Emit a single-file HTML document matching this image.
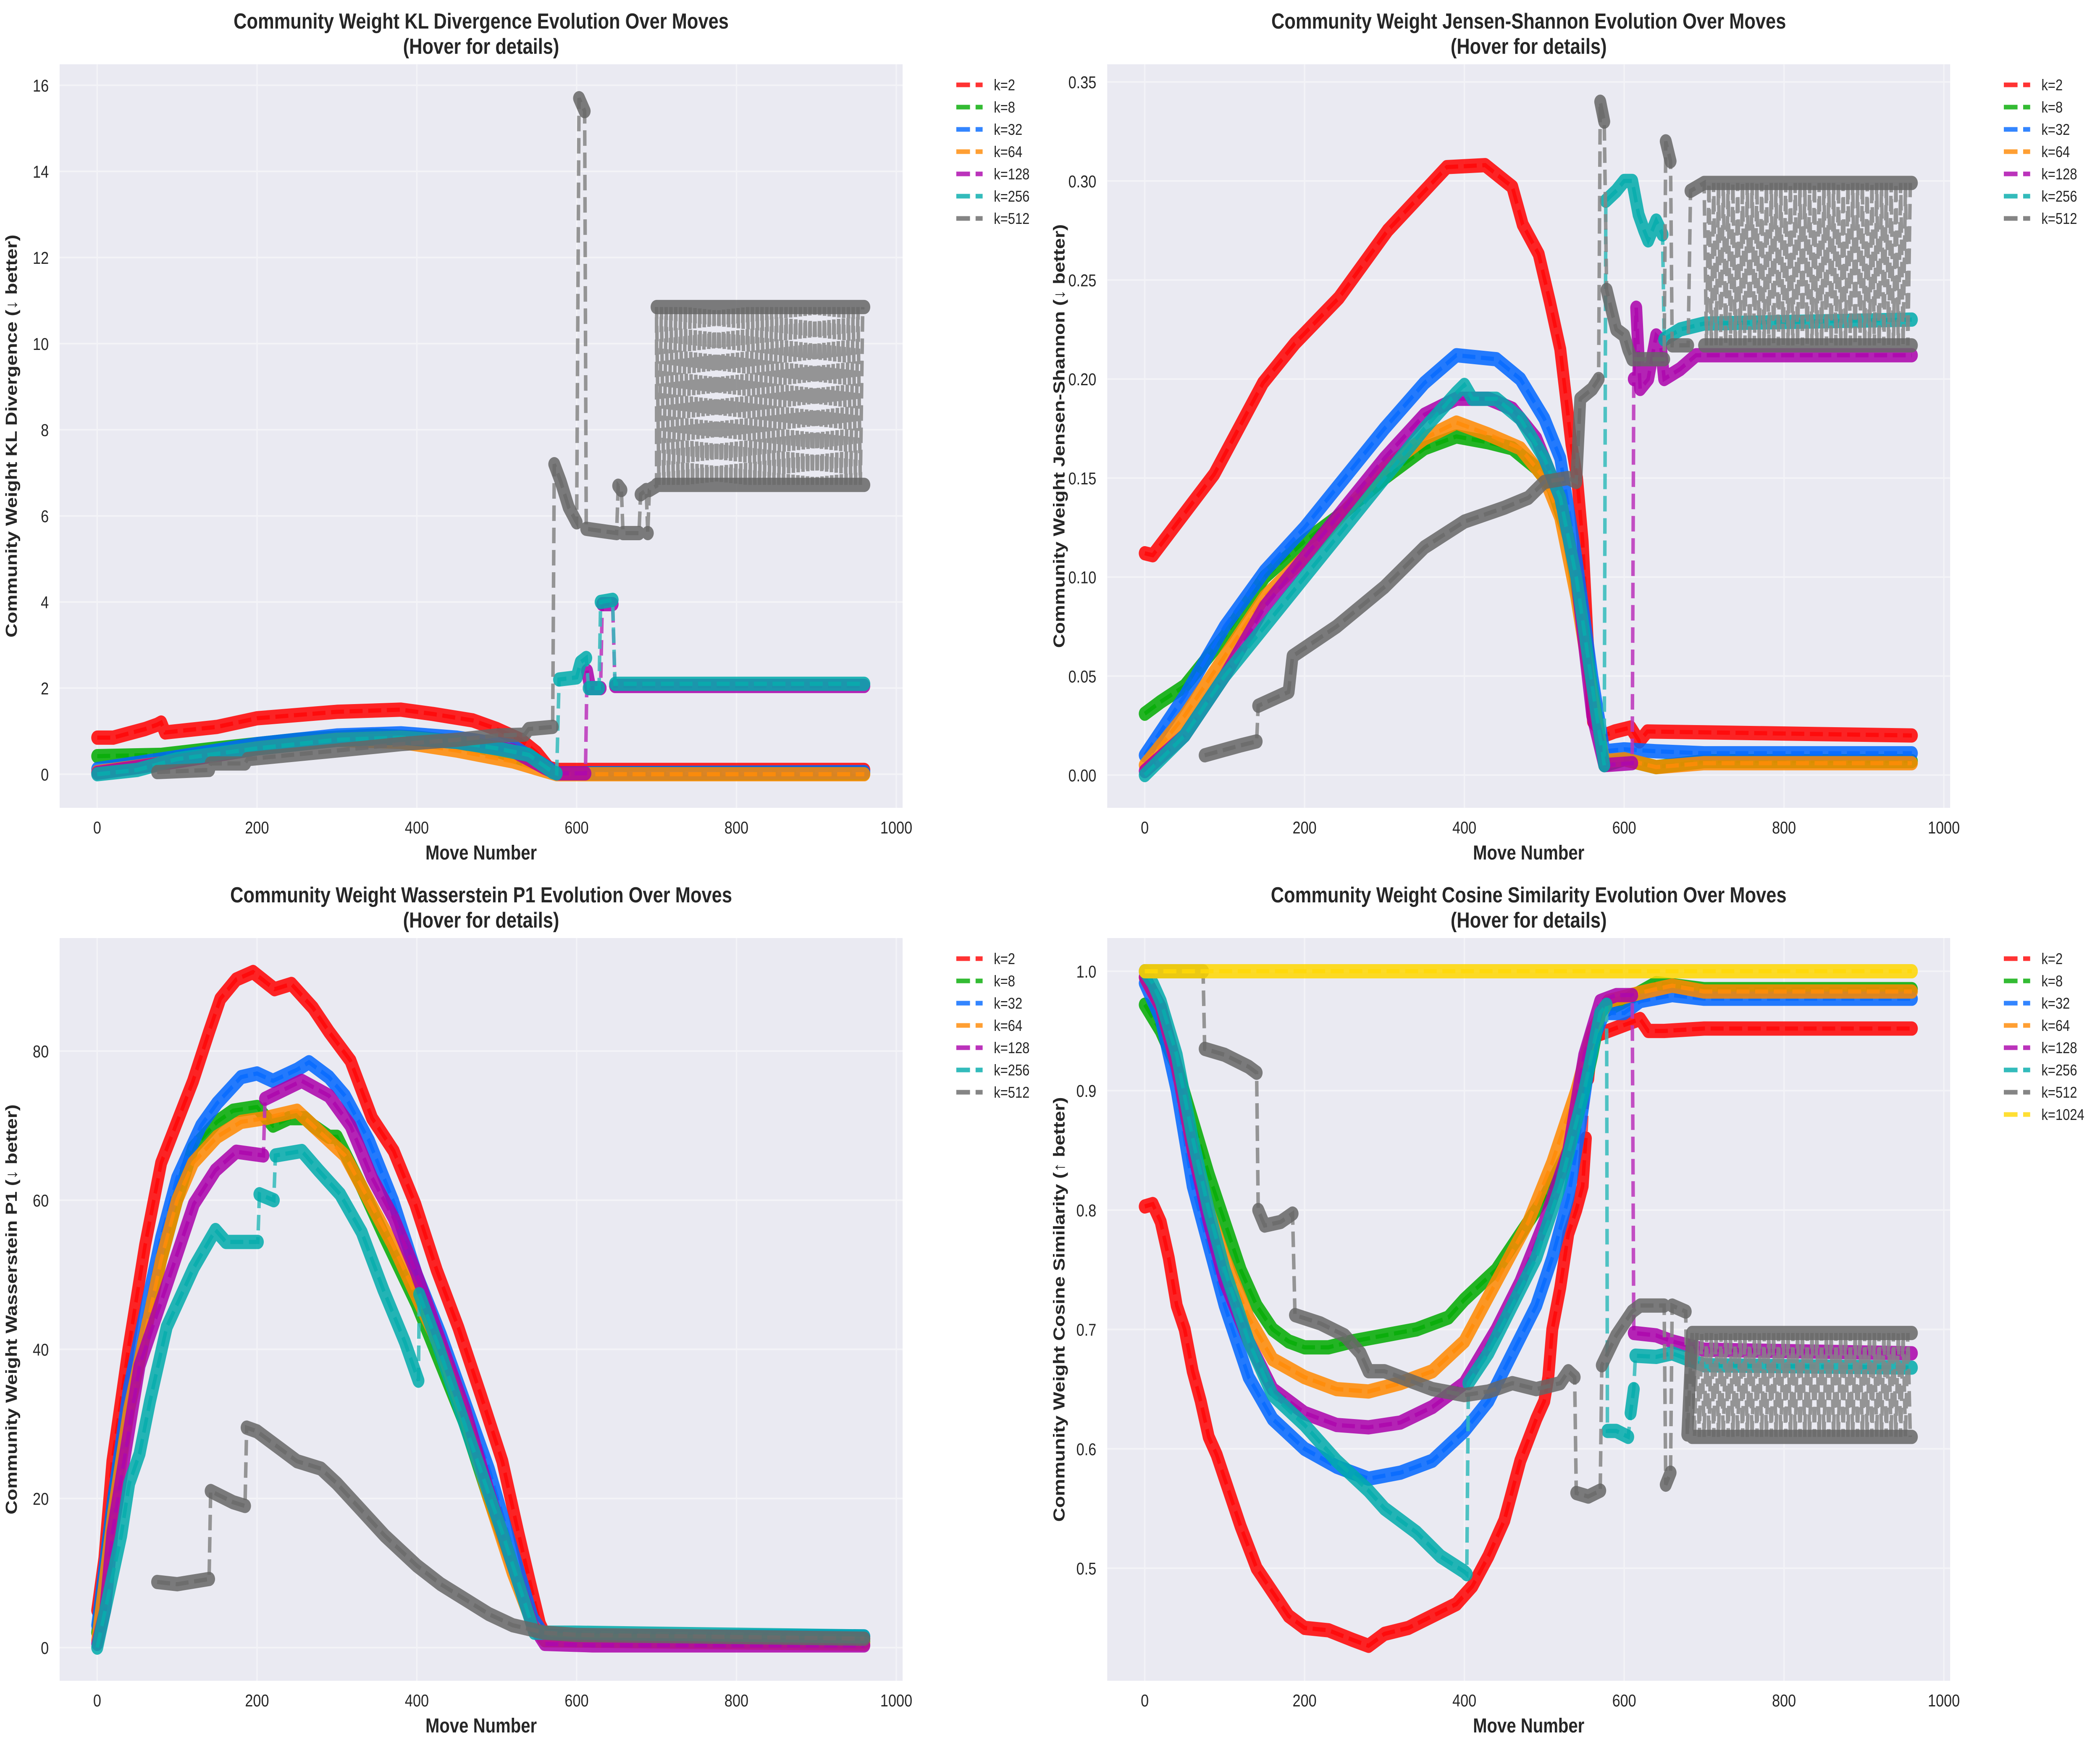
<!DOCTYPE html>
<html><head><meta charset="utf-8"><style>
html,body{margin:0;padding:0;background:#fff;width:100%;height:100%;overflow:hidden;}
svg{display:block;position:absolute;left:0;top:0;width:100vw;height:100vh;font-family:"Liberation Sans",Arial,sans-serif;}
</style></head><body>
<svg id="fig" viewBox="0 0 5984 4161" preserveAspectRatio="none" xmlns="http://www.w3.org/2000/svg"></svg>
<script>
// ---------- data ----------
const xTicks = [0,200,400,600,800,1000];
const klTicks = [0,2,4,6,8,10,12,14,16];
const jsTicks = [0,0.05,0.10,0.15,0.20,0.25,0.30,0.35];
const wsTicks = [0,20,40,60,80];
const cosTicks = [0.5,0.6,0.7,0.8,0.9,1.0];
const seriesLabels = ["k=2","k=8","k=32","k=64","k=128","k=256","k=512","k=1024"];

// KL divergence
const kl_k2 = [[0,0.85],[20,0.85],[40,0.95],[60,1.05],[75,1.15],[80,1.2],[85,0.97],[150,1.1],[200,1.3],[300,1.45],[380,1.5],[420,1.4],[470,1.25],[500,1.05],[530,0.8],[550,0.5],[565,0.15],[575,0.1],[960,0.1]];
const kl_k8 = [[0,0.42],[80,0.45],[150,0.6],[250,0.8],[350,0.9],[400,0.85],[450,0.75],[500,0.55],[550,0.25],[575,0.02],[960,0.02]];
const kl_k32 = [[0,0.12],[100,0.4],[200,0.7],[300,0.9],[380,0.95],[450,0.85],[520,0.65],[560,0.2],[575,0.02],[960,0.05]];
const kl_k64 = [[0,0.05],[100,0.3],[200,0.6],[300,0.8],[380,0.75],[450,0.55],[520,0.3],[560,0.08],[575,0.0],[960,0.0]];
const kl_k128 = [[0,0.03],[100,0.3],[200,0.6],[300,0.8],[380,0.85],[450,0.75],[520,0.55],[560,0.15],[575,0.02],[611,0.02],[613,2.4],[617,2.0],[630,2.0],[632,3.95],[645,3.95],[648,2.05],[960,2.05]];
const kl_k256 = [[0,0.0],[50,0.1],[100,0.35],[200,0.6],[300,0.8],[380,0.85],[450,0.75],[500,0.6],[540,0.45],[570,0.05],[575,0.02],[578,2.2],[600,2.25],[605,2.6],[612,2.7],[615,2.0],[628,2.0],[630,4.0],[645,4.05],[648,2.1],[960,2.1]];
const kl_k512 = [[75,0.05],[140,0.1],[142,0.25],[185,0.25],[188,0.35],[300,0.55],[380,0.7],[450,0.8],[500,0.9],[535,0.92],[540,1.05],[570,1.1],[572,7.2],[580,6.8],[590,6.2],[600,5.85],[603,15.7],[610,15.4],[612,5.7],[650,5.6],[652,6.7],[656,6.6],[658,5.6],[678,5.6],[680,6.5],[687,6.6],[689,5.6],[691,6.6],[700,6.7]];
const kl_k512_osc = [700,960,6.72,10.85];

// Jensen-Shannon
const js_k2 = [[0,0.112],[10,0.111],[87,0.152],[148,0.198],[188,0.218],[243,0.241],[304,0.275],[378,0.307],[426,0.308],[460,0.297],[473,0.278],[493,0.263],[507,0.239],[520,0.215],[527,0.191],[534,0.167],[541,0.15],[548,0.118],[554,0.07],[561,0.027],[575,0.02],[588,0.022],[608,0.024],[619,0.017],[629,0.022],[960,0.02]];
const js_k8 = [[0,0.031],[20,0.037],[50,0.045],[100,0.07],[150,0.1],[200,0.118],[250,0.133],[300,0.15],[350,0.165],[390,0.171],[430,0.168],[460,0.165],[490,0.155],[510,0.145],[530,0.12],[550,0.07],[565,0.03],[575,0.005],[600,0.008],[620,0.006],[640,0.004],[700,0.007],[960,0.007]];
const js_k32 = [[0,0.01],[50,0.04],[100,0.075],[150,0.103],[200,0.125],[250,0.15],[300,0.175],[350,0.198],[390,0.212],[440,0.21],[470,0.2],[500,0.18],[520,0.16],[540,0.11],[560,0.05],[575,0.012],[600,0.013],[640,0.012],[700,0.011],[960,0.011]];
const js_k64 = [[0,0.005],[50,0.03],[100,0.06],[150,0.09],[200,0.11],[250,0.133],[300,0.155],[350,0.17],[390,0.178],[430,0.172],[470,0.165],[500,0.15],[520,0.13],[540,0.09],[560,0.04],[575,0.007],[600,0.008],[640,0.004],[700,0.006],[960,0.006]];
const js_k128 = [[0,0.002],[50,0.02],[100,0.05],[150,0.085],[200,0.11],[250,0.135],[300,0.16],[350,0.182],[390,0.19],[430,0.19],[460,0.185],[490,0.17],[520,0.14],[540,0.1],[560,0.03],[575,0.005],[610,0.006],[612,0.2],[615,0.236],[620,0.195],[630,0.2],[640,0.222],[645,0.22],[650,0.2],[670,0.205],[690,0.212],[960,0.212]];
const js_k256 = [[0,0.0],[50,0.02],[100,0.05],[150,0.075],[200,0.1],[250,0.125],[300,0.15],[350,0.175],[390,0.193],[400,0.197],[410,0.19],[440,0.19],[470,0.18],[500,0.16],[520,0.14],[540,0.1],[560,0.045],[575,0.005],[577,0.29],[590,0.295],[600,0.3],[610,0.3],[618,0.283],[625,0.275],[630,0.27],[635,0.275],[640,0.28],[648,0.273],[650,0.22],[670,0.225],[700,0.228],[960,0.23]];
const js_k512 = [[75,0.01],[120,0.015],[140,0.017],[142,0.035],[180,0.042],[185,0.06],[240,0.075],[300,0.095],[350,0.115],[400,0.128],[450,0.135],[480,0.14],[500,0.148],[530,0.15],[540,0.148],[545,0.19],[560,0.195],[568,0.2],[570,0.34],[575,0.33],[578,0.245],[590,0.225],[600,0.222],[605,0.215],[610,0.21],[650,0.21],[652,0.32],[658,0.31],[660,0.217],[680,0.217],[683,0.295],[700,0.299]];
const js_k512_osc = [700,960,0.217,0.299];

// Wasserstein P1
const ws_k2 = [[0,5],[9,12],[19,25],[39,40],[60,54],[80,65],[100,70.5],[120,76],[140,82.6],[154,87],[174,89.6],[195,90.6],[222,88.3],[243,89],[270,85.8],[290,82.6],[317,78.7],[344,71],[371,66.6],[398,59.5],[425,50.6],[452,42.9],[480,33.9],[507,25],[527,15.4],[541,9],[554,3.2],[561,1.6],[600,1.5],[960,1.2]];
const ws_k8 = [[0,2],[20,20],[40,32],[60,42],[80,52],[100,60],[120,67],[150,70.5],[170,72],[200,72.5],[220,70],[240,71],[260,71],[270,70],[290,68.5],[300,68.5],[330,62],[360,55],[400,46],[430,38],[460,30],[490,20],[520,11],[545,3],[560,1],[960,0.8]];
const ws_k32 = [[0,3],[20,20],[40,35],[60,45],[80,55],[100,63],[130,70],[150,73],[180,76.5],[200,77],[220,76],[250,77.5],[265,78.5],[290,76.5],[310,74],[340,68],[370,60],[400,50],[430,42],[460,33],[490,24],[520,13],[545,4],[560,1.5],[960,1.5]];
const ws_k64 = [[0,1],[20,18],[40,32],[60,42],[80,52],[100,60],[120,65],[150,68.5],[180,70.5],[210,71],[250,72],[280,69],[310,66],[340,60],[370,54],[400,47],[430,40],[460,31],[490,20],[520,10],[545,3],[560,1],[960,0.5]];
const ws_k128 = [[0,0.5],[10,5],[19,15.4],[53,37.8],[87,48.6],[121,59.5],[148,64],[174,66.5],[208,66],[210,73.6],[256,76],[290,74],[317,70],[344,63],[371,57.6],[398,50.6],[430,41],[460,32],[490,21],[520,11],[545,3],[560,0.5],[620,0.3],[960,0.3]];
const ws_k256 = [[0,0],[10,5],[20,10],[30,15],[40,22],[53,26],[66,33],[87,43],[121,51],[148,56],[161,54.4],[201,54.4],[203,60.8],[221,60],[223,66],[256,66.6],[277,64],[304,60.8],[331,55.7],[358,48],[385,41],[402,35.8],[403,47.4],[425,41],[466,28],[507,15.4],[547,2],[600,2],[960,1.5]];
const ws_k512 = [[75,8.8],[100,8.5],[140,9.2],[142,21],[170,19.5],[185,19],[187,29.5],[200,29],[250,25],[280,24],[300,22],[330,18.5],[360,15],[400,11],[430,8.5],[460,6.5],[490,4.5],[520,3],[560,2],[600,1.7],[960,1.2]];

// Cosine similarity
const cos_k2 = [[0,0.803],[10,0.805],[20,0.79],[30,0.76],[40,0.72],[50,0.7],[60,0.665],[70,0.64],[80,0.61],[90,0.595],[100,0.575],[120,0.535],[140,0.5],[160,0.48],[180,0.46],[200,0.45],[230,0.448],[260,0.44],[280,0.435],[300,0.445],[330,0.45],[360,0.46],[390,0.47],[410,0.485],[430,0.51],[450,0.54],[470,0.59],[490,0.625],[500,0.64],[505,0.66],[510,0.7],[520,0.735],[530,0.78],[540,0.8],[548,0.82],[552,0.86],[555,0.91],[560,0.945],[580,0.95],[600,0.955],[620,0.96],[630,0.95],[650,0.95],[700,0.952],[960,0.952]];
const cos_k8 = [[0,0.972],[20,0.95],[40,0.92],[60,0.875],[80,0.83],[100,0.79],[120,0.75],[140,0.72],[160,0.7],[180,0.69],[200,0.685],[230,0.685],[260,0.69],[300,0.695],[340,0.7],[380,0.71],[400,0.725],[440,0.75],[470,0.78],[500,0.81],[530,0.85],[550,0.9],[560,0.93],[570,0.965],[600,0.975],[640,0.99],[700,0.985],[960,0.985]];
const cos_k32 = [[0,0.99],[20,0.96],[40,0.9],[60,0.82],[80,0.77],[100,0.72],[130,0.66],[160,0.625],[200,0.6],[240,0.585],[280,0.575],[320,0.58],[360,0.59],[400,0.615],[430,0.64],[460,0.68],[490,0.72],[510,0.76],[530,0.81],[545,0.87],[560,0.94],[575,0.965],[600,0.965],[620,0.975],[660,0.98],[700,0.977],[960,0.977]];
const cos_k64 = [[0,0.995],[20,0.97],[40,0.92],[60,0.85],[80,0.8],[100,0.76],[130,0.71],[160,0.675],[200,0.66],[240,0.65],[280,0.648],[320,0.655],[360,0.665],[400,0.69],[440,0.74],[480,0.79],[510,0.84],[540,0.9],[560,0.95],[580,0.975],[620,0.982],[660,0.988],[700,0.983],[960,0.983]];
const cos_k128 = [[0,0.995],[20,0.97],[40,0.92],[60,0.85],[80,0.79],[100,0.74],[130,0.69],[160,0.65],[200,0.63],[240,0.62],[280,0.618],[320,0.622],[360,0.635],[400,0.655],[440,0.7],[470,0.74],[500,0.79],[530,0.85],[550,0.93],[570,0.975],[590,0.98],[610,0.98],[612,0.697],[640,0.695],[660,0.69],[700,0.683],[960,0.68]];
const cos_k256 = [[0,1.0],[10,0.99],[20,0.975],[40,0.93],[60,0.86],[80,0.8],[100,0.75],[130,0.69],[160,0.645],[200,0.62],[240,0.59],[280,0.565],[300,0.55],[340,0.53],[370,0.51],[400,0.497],[403,0.495],[405,0.655],[430,0.68],[460,0.72],[490,0.76],[520,0.82],[550,0.9],[570,0.965],[578,0.972],[579,0.615],[590,0.615],[605,0.61],[608,0.63],[612,0.65],[614,0.678],[640,0.677],[660,0.68],[700,0.67],[960,0.668]];
const cos_k512 = [[0,1.0],[73,1.0],[75,0.935],[100,0.93],[130,0.92],[140,0.915],[142,0.8],[150,0.787],[170,0.79],[185,0.797],[188,0.712],[220,0.705],[250,0.695],[270,0.68],[280,0.665],[300,0.665],[320,0.66],[340,0.655],[360,0.65],[400,0.645],[430,0.648],[460,0.655],[490,0.65],[520,0.655],[530,0.665],[538,0.66],[540,0.563],[555,0.56],[570,0.565],[572,0.67],[590,0.695],[610,0.715],[620,0.72],[650,0.72],[652,0.57],[658,0.58],[660,0.72],[677,0.715],[679,0.612],[685,0.697]];
const cos_k512_osc = [685,960,0.61,0.697];
const cos_k1024 = [[0,1.0],[960,1.0]];

// ---------- rendering ----------
const markerColors = ["#ff0000","#00aa00","#0066ff","#ff8800","#aa00aa","#00aaaa","#666666","#ffd700"];
const lineColors = ["#ff3333","#33bb33","#3385ff","#ff9f33","#bb33bb","#33bbbb","#858585","#ffdf33"];
const NS = "http://www.w3.org/2000/svg";
const fig = document.getElementById('fig');
function mk(tag, attrs, parent){const e=document.createElementNS(NS,tag);for(const k in attrs)e.setAttribute(k,attrs[k]);(parent||fig).appendChild(e);return e;}

const charts = [
 {name:"kl", left:170, top:153, w:2402, h:1770, y0:1843, k:102.5, ticks:klTicks, fmt:v=>String(v),
  title:"Community Weight KL Divergence Evolution Over Moves", ylabel:"Community Weight KL Divergence (\u2193 better)",
  series:[kl_k2,kl_k8,kl_k32,kl_k64,kl_k128,kl_k256,kl_k512], osc:{6:kl_k512_osc}},
 {name:"js", left:3155, top:153, w:2402, h:1770, y0:1845, k:4714, ticks:jsTicks, fmt:v=>v.toFixed(2),
  title:"Community Weight Jensen-Shannon Evolution Over Moves", ylabel:"Community Weight Jensen-Shannon (\u2193 better)",
  series:[js_k2,js_k8,js_k32,js_k64,js_k128,js_k256,js_k512], osc:{6:js_k512_osc}},
 {name:"wasserstein", left:170, top:2233, w:2402, h:1768, y0:3922, k:17.75, ticks:wsTicks, fmt:v=>String(v),
  title:"Community Weight Wasserstein P1 Evolution Over Moves", ylabel:"Community Weight Wasserstein P1 (\u2193 better)",
  series:[ws_k2,ws_k8,ws_k32,ws_k64,ws_k128,ws_k256,ws_k512], osc:{}},
 {name:"cosine", left:3155, top:2233, w:2402, h:1768, y0:2312+2842, k:2842, ticks:cosTicks, fmt:v=>v.toFixed(1),
  title:"Community Weight Cosine Similarity Evolution Over Moves", ylabel:"Community Weight Cosine Similarity (\u2191 better)",
  series:[cos_k2,cos_k8,cos_k32,cos_k64,cos_k128,cos_k256,cos_k512,cos_k1024], osc:{6:cos_k512_osc}}
];

charts.forEach(c=>{
  const xS = v => c.left + 107 + v*2.277;
  const yS = v => c.y0 - v*c.k;
  const g = mk('g',{});
  
  
  const bg = mk('rect',{x:c.left,y:c.top,width:c.w,height:c.h,fill:'#eaeaf2'},g);
  
  
  xTicks.forEach(t=>{const x=xS(t);
    const l=mk('line',{x1:x,x2:x,y1:c.top,y2:c.top+c.h,stroke:'#f3f3f7','stroke-width':4},g);
    
    
    const tx=mk('text',{x:x,y:c.top+c.h+61,'font-size':41,fill:'#262626','text-anchor':'middle'},g);
    tx.textContent=t;
    
    
  });
  c.ticks.forEach(t=>{const y=yS(t);
    const l=mk('line',{x1:c.left,x2:c.left+c.w,y1:y,y2:y,stroke:'#f3f3f7','stroke-width':4},g);
    
    
    const tx=mk('text',{x:c.left-31,y:y+15,'font-size':41,fill:'#262626','text-anchor':'end'},g);
    tx.textContent=c.fmt(t);
    
    
  });
  c.series.forEach((data,i)=>{
    const sg = mk('g',{},g);
    
    
    let pts = data.map(p=>[xS(p[0]),yS(p[1])]);
    const osc = c.osc[i];
    let zig = [];
    if(osc){
      let hi=true;
      for(let m=osc[0]; m<=osc[1]; m+=3){ zig.push([xS(m), yS(hi?osc[3]:osc[2])]); hi=!hi; }
    }
    const all = pts.concat(zig);
    const dl = mk('path',{d:'M'+all.map(p=>p[0].toFixed(1)+' '+p[1].toFixed(1)).join('L'),fill:'none',stroke:lineColors[i],'stroke-width':10,'stroke-dasharray':'37 16','stroke-opacity':0.85},sg);
    
    
    const segs=[]; let cur=[data[0]];
    for(let j=1;j<data.length;j++){
      const dx=data[j][0]-data[j-1][0], dy=Math.abs(yS(data[j][1])-yS(data[j-1][1]));
      if(dx<=3 && dy>40){segs.push(cur);cur=[data[j]];} else cur.push(data[j]);
    }
    segs.push(cur);
    if(osc){ segs.push([[osc[0],osc[2]],[osc[1],osc[2]]]); segs.push([[osc[0],osc[3]],[osc[1],osc[3]]]); }
    let d='';
    segs.forEach(s=>{
      d+='M'+s.map(p=>xS(p[0]).toFixed(1)+' '+yS(p[1]).toFixed(1)).join('L');
      if(s.length===1) d+='l0.01 0';
    });
    const band = mk('path',{d:d,fill:'none',stroke:markerColors[i],'stroke-width':34,'stroke-linecap':'round','stroke-linejoin':'round','stroke-opacity':0.85},sg);
    
    
  });
  const cx = c.left + c.w/2;
  const t1 = mk('text',{x:cx,y:c.top-85,'font-size':52,'font-weight':'bold',fill:'#262626','text-anchor':'middle'},g);
  t1.textContent=c.title;
  
  
  const t2 = mk('text',{x:cx,y:c.top-25,'font-size':52,'font-weight':'bold',fill:'#262626','text-anchor':'middle'},g);
  t2.textContent='(Hover for details)';
  
  
  const xl = mk('text',{x:cx,y:c.top+c.h+123,'font-size':48,'font-weight':'bold',fill:'#262626','text-anchor':'middle'},g);
  xl.textContent='Move Number';
  
  
  const ycx = c.left-122, ycy = c.top+c.h/2;
  const yl = mk('text',{x:ycx,y:ycy,'font-size':46,'font-weight':'bold',fill:'#262626','text-anchor':'middle',transform:'rotate(-90 '+ycx+' '+ycy+')'},g);
  yl.textContent=c.ylabel;
  
  
  const lg = mk('g',{},g);
  
  
  const lx = c.left+c.w+153;
  c.series.forEach((s,i)=>{
    const y = c.top+49+i*53;
    const eg = mk('g',{},lg);
    
    
    mk('line',{x1:lx,x2:lx+75,y1:y,y2:y,stroke:lineColors[i],'stroke-width':11,'stroke-dasharray':'39 16'},eg);
    const tx=mk('text',{x:lx+107,y:y+13,'font-size':37,fill:'#262626'},eg);
    tx.textContent=seriesLabels[i];
  });
});
</script>
</body></html>
